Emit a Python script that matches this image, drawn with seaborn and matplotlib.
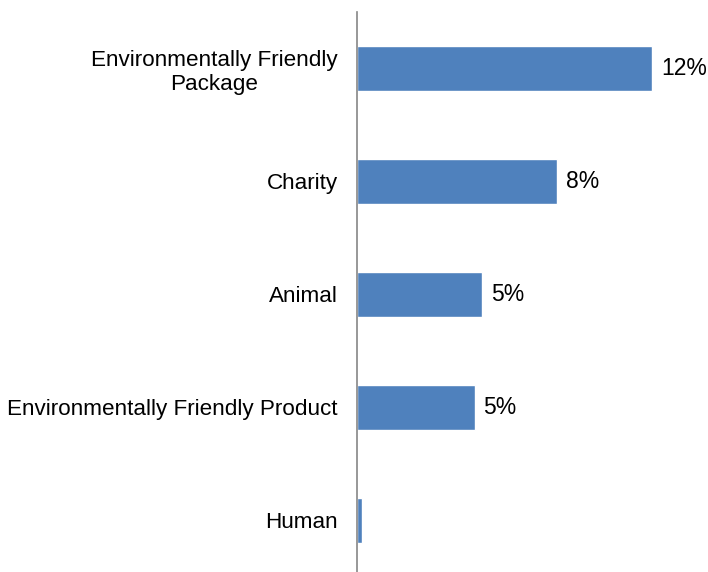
import matplotlib
matplotlib.use("Agg")
import matplotlib.pyplot as plt
import seaborn as sns
import pandas as pd

categories = ["Environmentally Friendly\nPackage", "Charity", "Animal",
              "Environmentally Friendly Product", "Human"]
values = [11.8, 8.0, 5.0, 4.7, 0.2]
labels = ["12%", "8%", "5%", "5%", ""]

df = pd.DataFrame({"category": categories, "value": values})

sns.set_style("white")
plt.rcParams["font.family"] = ["Liberation Sans", "DejaVu Sans"]

fig = plt.figure(figsize=(7.08, 5.72), dpi=100)
ax = fig.add_axes([357 / 708, 0.0, 351 / 708, 560 / 572])

sns.barplot(data=df, x="value", y="category", orient="h", color="#4F81BD",
            saturation=1, width=0.4, ax=ax)

# value labels to the right of the bars (Human gets none)
for bar, lab in zip(ax.patches, labels):
    if lab:
        ax.text(bar.get_width() + 0.36, bar.get_y() + bar.get_height() / 2, lab,
                va="center", ha="left", fontsize=16.5, color="black")

ax.set_xlim(0, 14.04)
ax.set_ylim(4.456, -0.5)
ax.set_xlabel("")
ax.set_ylabel("")
ax.set_xticks([])
for s in ["top", "right", "bottom"]:
    ax.spines[s].set_visible(False)
ax.spines["left"].set_color("#868686")
ax.spines["left"].set_linewidth(1.2)
ax.tick_params(axis="y", length=0, pad=14, labelsize=16.2, labelcolor="black")
for t in ax.get_yticklabels():
    t.set_horizontalalignment("right")
    t.set_multialignment("center")

fig.savefig("out.png", dpi=100)
